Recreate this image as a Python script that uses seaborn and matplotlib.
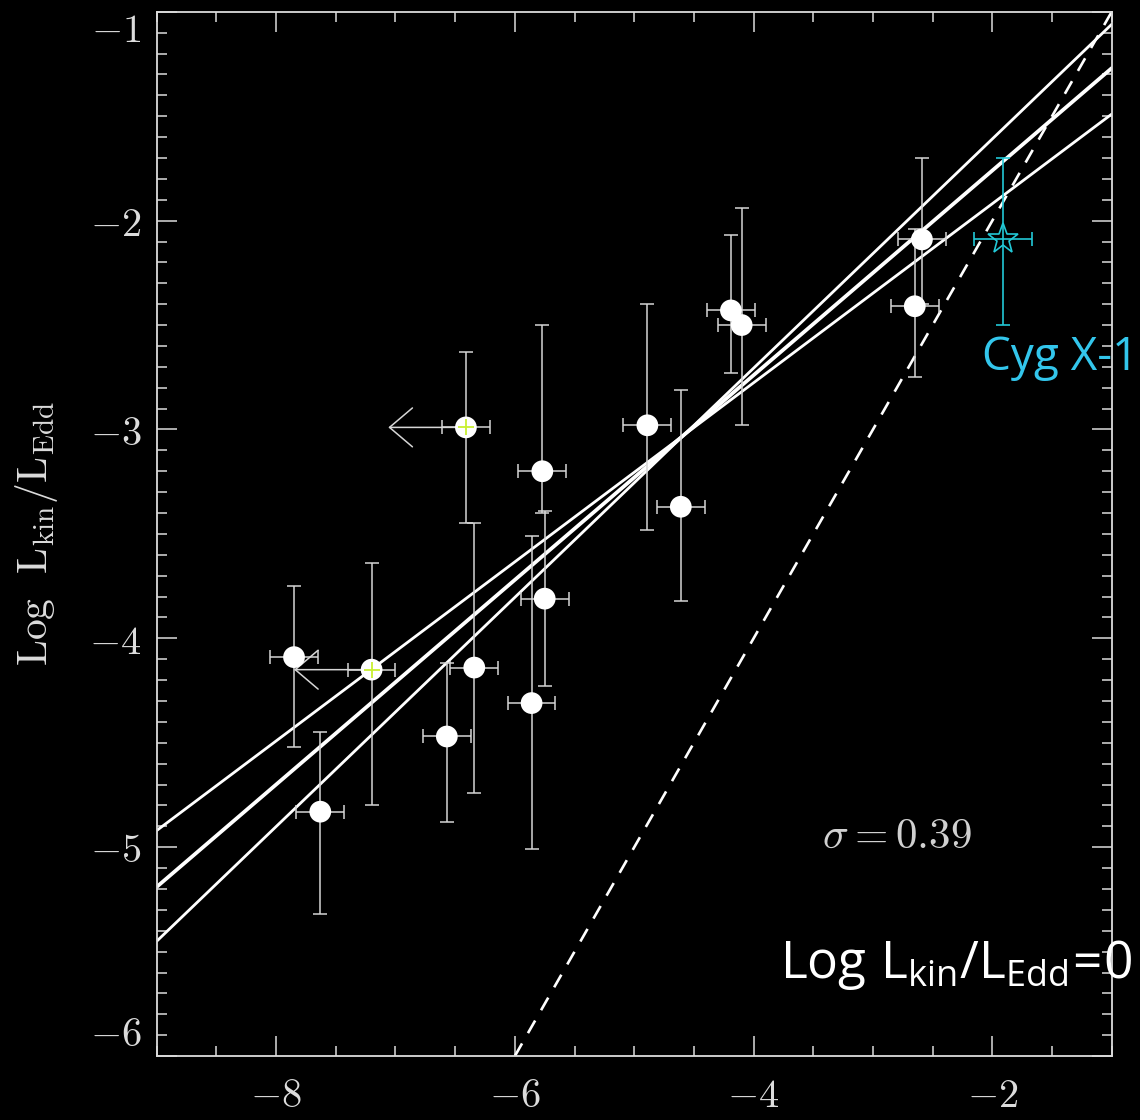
import matplotlib
matplotlib.use("Agg")
import matplotlib.pyplot as plt
from matplotlib.ticker import MultipleLocator
import numpy as np
import pandas as pd
import seaborn as sns

# ---- sample: log Lx/LEdd (x) against log Lkin/LEdd (y) ----
log_x = [-7.85, -7.20, -7.63, -6.57, -6.34, -6.41, -5.77, -5.75,
         -5.86, -4.89, -4.61, -4.19, -4.10, -2.59, -2.65]
log_y = [-4.09, -4.15, -4.83, -4.47, -4.14, -2.99, -3.20, -3.81,
         -4.31, -2.98, -3.37, -2.43, -2.50, -2.09, -2.41]
y_hi = [-3.75, -3.64, -4.45, -4.12, -3.45, -2.63, -2.50, -3.39,
        -3.51, -2.40, -2.81, -2.07, -1.94, -1.70, -2.04]
y_lo = [-4.52, -4.80, -5.32, -4.88, -4.74, -3.45, -3.40, -4.23,
        -5.01, -3.48, -3.82, -2.73, -2.98, -2.40, -2.75]
x_err = [0.2] * 15
upper_limit = [False, True, False, False, False, True, False, False,
               False, False, False, False, False, False, False]
limit_arrow = 0.65

# Cyg X-1
cyg_x = [-1.91]
cyg_y = [-2.09]
cyg_y_hi = [-1.70]
cyg_y_lo = [-2.50]
cyg_x_err = [0.245]

# regression line and its slope envelope, given at the two x ends
fit_x = [-9.0, -1.0]
fit_mid = [-5.19, -1.27]
fit_steep = [-5.45, -1.06]
fit_shallow = [-4.92, -1.49]

# equality line
equal_x = [-6.0, -1.0]
equal_y = [-6.0, -1.0]

x_ticks = [-8, -6, -4, -2]
y_ticks = [-6, -5, -4, -3, -2, -1]
sigma_text = r"$\sigma=0.39$"

# ---- style ----
fg = "#dcdcdc"
sns.set_style("ticks", {
    "axes.facecolor": "black",
    "figure.facecolor": "black",
    "axes.edgecolor": fg,
    "xtick.color": fg,
    "ytick.color": fg,
    "text.color": fg,
    "axes.labelcolor": fg,
    "xtick.direction": "in",
    "ytick.direction": "in",
    "xtick.top": True,
    "ytick.right": True,
})
plt.rcParams["mathtext.fontset"] = "cm"
plt.rcParams["mathtext.rm"] = "Open Sans"
plt.rcParams["mathtext.it"] = "Open Sans:italic"
plt.rcParams["mathtext.bf"] = "Open Sans:bold"
plt.rcParams["font.family"] = ["Open Sans", "DejaVu Sans"]

fig = plt.figure(figsize=(11.4, 11.2), dpi=100)
ax = fig.add_axes([0.1375, 0.0571, 0.8377, 0.9324])

# fit lines
line_df = pd.DataFrame({
    "x": fit_x * 3,
    "y": fit_steep + fit_mid + fit_shallow,
    "fit": ["steep"] * 2 + ["mid"] * 2 + ["shallow"] * 2,
})
for name, lw in [("steep", 2.0), ("shallow", 2.0), ("mid", 2.7)]:
    sns.lineplot(data=line_df[line_df["fit"] == name], x="x", y="y",
                 color="white", lw=lw, estimator=None, ax=ax, zorder=2)

sns.lineplot(x=equal_x, y=equal_y, color="white", lw=1.9,
             linestyle=(0, (5.5, 4.5)), estimator=None, ax=ax, zorder=2)

# error bars
lx = np.array(log_x)
ly = np.array(log_y)
ax.errorbar(lx, ly, yerr=[ly - np.array(y_lo), np.array(y_hi) - ly],
            xerr=x_err, fmt="none", ecolor="#d6d6d6", elinewidth=1.1,
            capsize=4.8, capthick=1.1, zorder=3)

# upper-limit arrows
for xi, yi, lim in zip(log_x, log_y, upper_limit):
    if lim:
        ax.annotate("", xy=(xi - limit_arrow, yi), xytext=(xi, yi),
                    arrowprops=dict(arrowstyle="->,head_length=1.65,head_width=1.4",
                                    color="#d6d6d6", lw=1.1,
                                    shrinkA=0, shrinkB=0, mutation_scale=10),
                    zorder=3)

# data points
sns.scatterplot(x=log_x, y=log_y, color="white", s=245, edgecolor="none",
                ax=ax, zorder=4, legend=False)
lim_x = [x for x, l in zip(log_x, upper_limit) if l]
lim_y = [y for y, l in zip(log_y, upper_limit) if l]
ax.plot(lim_x, lim_y, ls="none", marker="+", ms=11, mew=1.3,
        color="#c8f030", zorder=5)

# Cyg X-1
cyan = "#22c8d6"
cx, cy = np.array(cyg_x), np.array(cyg_y)
ax.errorbar(cx, cy, yerr=[cy - np.array(cyg_y_lo), np.array(cyg_y_hi) - cy],
            xerr=cyg_x_err, fmt="none", ecolor=cyan, elinewidth=1.2,
            capsize=4.8, capthick=1.2, zorder=3)
ax.plot(cyg_x, cyg_y, ls="none", marker="*", ms=23, mew=1.2,
        mfc="none", mec=cyan, zorder=5)
ax.text(-2.085, -2.715, "Cyg X-1", color="#33c6ec", fontsize=33,
        family="Open Sans", ha="left", va="baseline", clip_on=False)

# annotations
ax.text(-2.80, -4.95, sigma_text, fontsize=31, color="#d0d0d0",
        ha="center", va="center")
ax.text(-0.83, -5.626, r"$\mathrm{Log\ L_{kin}/L_{Edd}\!=\!0}$",
        fontsize=37, color="white", ha="right", va="baseline",
        math_fontfamily="custom", clip_on=False)

# axes
ax.set_xlim(-9, -1)
ax.set_ylim(-6, -1)
ax.set_xticks(x_ticks, labels=[f"${t}$" for t in x_ticks])
ax.set_yticks(y_ticks, labels=[f"${t}$" for t in y_ticks])
ax.xaxis.set_minor_locator(MultipleLocator(0.5))
ax.yaxis.set_minor_locator(MultipleLocator(0.1))
ax.tick_params(which="major", length=14.4, width=1.1, labelsize=29)
ax.tick_params(which="minor", length=7.4, width=1.1)
ax.tick_params(axis="x", which="major", pad=15)
ax.tick_params(axis="y", which="major", pad=11)
# end labels sit inside the axis range
for lab, t in zip(ax.get_yticklabels(), y_ticks):
    if t == y_ticks[-1]:
        lab.set_verticalalignment("top")
    elif t == y_ticks[0]:
        lab.set_verticalalignment("bottom")
for sp in ax.spines.values():
    sp.set_linewidth(1.3)
    sp.set_color(fg)
ax.set_xlabel("")
ax.set_ylabel("")
ax.text(-0.126, 0.5, r"$\mathrm{Log\ \ L_{kin}/L_{Edd}}$", transform=ax.transAxes,
        rotation=90, ha="center", va="center", fontsize=30, color=fg)

fig.savefig("out.png", dpi=100, facecolor="black")
